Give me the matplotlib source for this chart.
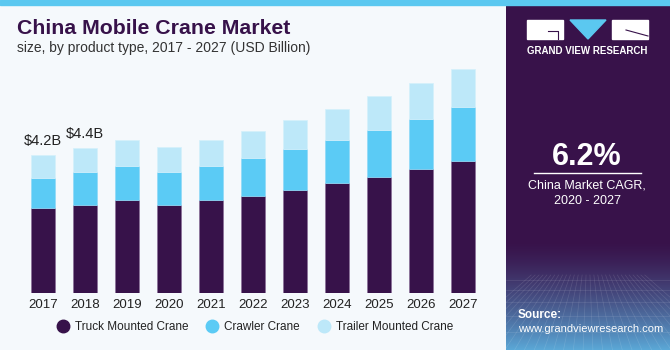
import numpy as np
import matplotlib.pyplot as plt
from matplotlib.lines import Line2D
from matplotlib.patches import Rectangle, Polygon

years = ['2017', '2018', '2019', '2020', '2021', '2022', '2023', '2024', '2025', '2026', '2027']
truck = [2.58, 2.69, 2.83, 2.69, 2.82, 2.96, 3.14, 3.35, 3.54, 3.77, 4.01]
crawler = [0.91, 0.99, 1.04, 1.00, 1.05, 1.15, 1.23, 1.32, 1.43, 1.53, 1.66]
trailer = [0.71, 0.73, 0.78, 0.76, 0.78, 0.83, 0.88, 0.93, 1.01, 1.09, 1.16]
labels = ['$4.2B', '$4.4B']
series_names = ['Truck Mounted Crane', 'Crawler Crane', 'Trailer Mounted Crane']

purple = '#37124A'
blue = '#5BCBF5'
light = '#BDE8F9'
bg = '#F5F9FC'

plt.rcParams['font.family'] = ['Liberation Sans', 'DejaVu Sans']

W, H = 670, 350
fig = plt.figure(figsize=(6.7, 3.5), dpi=100)
fig.patch.set_facecolor(bg)

def px(x0, y0, x1, y1):
    # pixel box (top-left origin) -> figure fraction rect
    return [x0 / W, 1 - y1 / H, (x1 - x0) / W, (y1 - y0) / H]

# top stripe
fig.patches.append(Rectangle((0, 1 - 5 / H), 1, 5 / H, transform=fig.transFigure,
                             color='#5BC8F0', zorder=0))

# chart
ax = fig.add_axes(px(22, 60, 484, 293))
ax.set_facecolor('none')
x = np.arange(len(years))
w = 0.57
bottom2 = np.array(truck) + np.array(crawler)
ax.bar(x, truck, w, color=purple, edgecolor='#8a6f98', linewidth=0.5)
ax.bar(x, crawler, w, bottom=truck, color=blue, edgecolor='#8fd9f7', linewidth=0.5)
ax.bar(x, trailer, w, bottom=bottom2, color=light, edgecolor='#d4f0fb', linewidth=0.5)
totals = bottom2 + np.array(trailer)
for i, lab in enumerate(labels):
    ax.text(x[i], totals[i] + 0.22, lab, ha='center', va='bottom', fontsize=10.5, color='#222222')
ax.set_xlim(-0.5, 10.5)
ax.set_ylim(0, 7.09)
ax.set_xticks(x)
ax.set_xticklabels(years, fontsize=9.5, color='#222222')
ax.tick_params(axis='x', length=0, pad=4)
ax.set_yticks([])
for s in ax.spines.values():
    s.set_visible(False)

# legend
handles = [Line2D([], [], marker='o', linestyle='none', markersize=9, color=c)
           for c in [purple, blue, light]]
fig.legend(handles, series_names, loc='center', bbox_to_anchor=(252 / W, 1 - 327 / H),
           ncol=3, frameon=False, fontsize=8.5, handletextpad=0.05, columnspacing=1.0,
           labelcolor='#222222')

# titles
fig.text(17 / W, 1 - 28 / H, 'China Mobile Crane Market', fontsize=15.3, fontweight='heavy',
         color=purple, va='center', ha='left')
fig.text(17 / W, 1 - 48 / H, 'size, by product type, 2017 - 2027 (USD Billion)', fontsize=10,
         color='#333333', va='center', ha='left')

# right panel
pan = fig.add_axes(px(506, 5, 670, 350))
pan.set_xlim(0, 164)
pan.set_ylim(345, 0)
pan.axis('off')
grad = np.ones((345, 1, 3))
top_c = np.array([0x38, 0x12, 0x4A]) / 255
bot_c = np.array([0x5B, 0xA9, 0xD8]) / 255
for r in range(345):
    t = 0 if r < 235 else ((r - 235) / 110) ** 1.4
    grad[r, 0] = top_c * (1 - t) + bot_c * t
pan.imshow(grad, extent=[0, 164, 345, 0], aspect='auto', zorder=0)
# faint grid in lower part
for gx in np.linspace(-60, 224, 30):
    pan.plot([82 + (gx - 82) * 0.4, gx], [270, 345], color='white', alpha=0.12, lw=0.5)
for gy in [275, 285, 297, 311, 327, 345]:
    pan.plot([0, 164], [gy, gy], color='white', alpha=0.12, lw=0.5)

# logo
pan.add_patch(Rectangle((21, 15), 36, 19, color='white'))
pan.add_patch(Polygon([[64, 15], [100, 15], [82, 34]], color='#5BC8F0'))
pan.add_patch(Rectangle((106, 15), 36, 19, color='white'))
pan.plot([42, 52, 52], [26, 26, 34], color=purple, lw=0.8)
pan.plot([120, 142], [25, 31], color=purple, lw=0.8)
pan.text(81, 46, 'GRAND VIEW RESEARCH', color='white', fontsize=7, fontweight='bold',
         ha='center', va='center')

pan.text(81, 152, '6.2%', color='white', fontsize=22, fontweight='bold', ha='center', va='center')
pan.plot([28, 135], [168, 168], color='white', lw=1)
pan.text(81, 180, 'China Market CAGR,', color='white', fontsize=9, ha='center', va='center')
pan.text(81, 196, '2020 - 2027', color='white', fontsize=9, ha='center', va='center')
pan.text(12, 310, 'Source:', color='white', fontsize=8.5, fontweight='bold', ha='left', va='center')
pan.text(12, 324, 'www.grandviewresearch.com', color='white', fontsize=8, ha='left', va='center')

fig.savefig('out.png', dpi=100, facecolor=fig.get_facecolor())
